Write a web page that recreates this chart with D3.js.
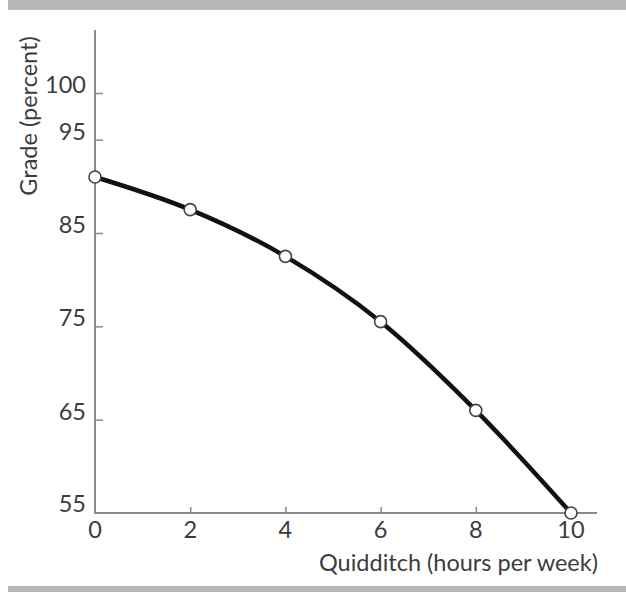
<!DOCTYPE html>
<html>
<head>
<meta charset="utf-8">
<script src="https://cdn.jsdelivr.net/npm/d3@7"></script>
<style>
  html, body { margin: 0; padding: 0; background: #fff; }
  svg { display: block; }
  text { font-family: Lato, "Open Sans", sans-serif; fill: #3c3c3c; }
</style>
</head>
<body>
<script>
const hours = [0, 2, 4, 6, 8, 10];
const grades = [91, 87.5, 82.5, 75.5, 66, 55];
const xTicks = [0, 2, 4, 6, 8, 10];
const yTicks = [55, 65, 75, 85, 95, 100];
const xLabel = "Quidditch (hours per week)";
const yLabel = "Grade (percent)";

const W = 626, H = 592;
const svg = d3.select("body").append("svg").attr("width", W).attr("height", H);

// gray rules top and bottom
svg.append("rect").attr("x", 8).attr("y", 0).attr("width", W - 8).attr("height", 10).attr("fill", "#b7b7b7");
svg.append("rect").attr("x", 8).attr("y", 586).attr("width", W - 8).attr("height", 6).attr("fill", "#b7b7b7");

const x = d3.scaleLinear().domain([0, 10]).range([95, 571]);
const y = d3.scaleLinear().domain([55, 100]).range([513, 93]);

const axisColor = "#8a8a8a";

// axis lines
svg.append("line").attr("x1", x(0)).attr("x2", x(0)).attr("y1", 30).attr("y2", y(55))
  .attr("stroke", axisColor).attr("stroke-width", 2);
svg.append("line").attr("x1", x(0) - 1).attr("x2", 597).attr("y1", y(55)).attr("y2", y(55))
  .attr("stroke", axisColor).attr("stroke-width", 2);

// y ticks
const yAxis = d3.axisRight(y).tickValues(yTicks.filter(d => d !== 55)).tickSize(8).tickFormat("");
const gy = svg.append("g").attr("transform", `translate(${x(0)},0)`).call(yAxis);
gy.select(".domain").remove();
gy.selectAll("line").attr("stroke", axisColor).attr("stroke-width", 1.5);

svg.selectAll(".ylab").data(yTicks).enter().append("text")
  .attr("class", "ylab")
  .attr("x", x(0) - 9)
  .attr("y", d => d === 55 ? y(d) - 7 : y(d) - 6)
  .attr("text-anchor", "end").attr("dominant-baseline", "middle")
  .attr("font-size", 23.5)
  .text(d => d);

// x ticks
const xAxis = d3.axisTop(x).tickValues(xTicks.filter(d => d !== 0 && d !== 10)).tickSize(6).tickFormat("");
const gx = svg.append("g").attr("transform", `translate(0,${y(55)})`).call(xAxis);
gx.select(".domain").remove();
gx.selectAll("line").attr("stroke", axisColor).attr("stroke-width", 1.5);

svg.selectAll(".xlab").data(xTicks).enter().append("text")
  .attr("class", "xlab")
  .attr("x", d => x(d))
  .attr("y", y(55) + 19)
  .attr("text-anchor", "middle").attr("dominant-baseline", "middle")
  .attr("font-size", 23.5)
  .text(d => d);

// axis titles
svg.append("text")
  .attr("transform", `translate(31,116) rotate(-90)`)
  .attr("text-anchor", "middle").attr("dominant-baseline", "middle")
  .attr("font-size", 23.5)
  .text(yLabel);

svg.append("text")
  .attr("x", 598).attr("y", 565)
  .attr("text-anchor", "end").attr("dominant-baseline", "middle")
  .attr("font-size", 23.5)
  .text(xLabel);

// curve
const pts = hours.map((h, i) => [h, grades[i]]);
const line = d3.line().x(d => x(d[0])).y(d => y(d[1])).curve(d3.curveMonotoneX);
svg.append("path").datum(pts).attr("d", line)
  .attr("fill", "none").attr("stroke", "#111").attr("stroke-width", 4.5)
  .attr("stroke-linecap", "round");

svg.selectAll(".pt").data(pts).enter().append("circle")
  .attr("class", "pt")
  .attr("cx", d => x(d[0])).attr("cy", d => y(d[1])).attr("r", 6)
  .attr("fill", "#fff").attr("stroke", "#444").attr("stroke-width", 1.6);
</script>
</body>
</html>
